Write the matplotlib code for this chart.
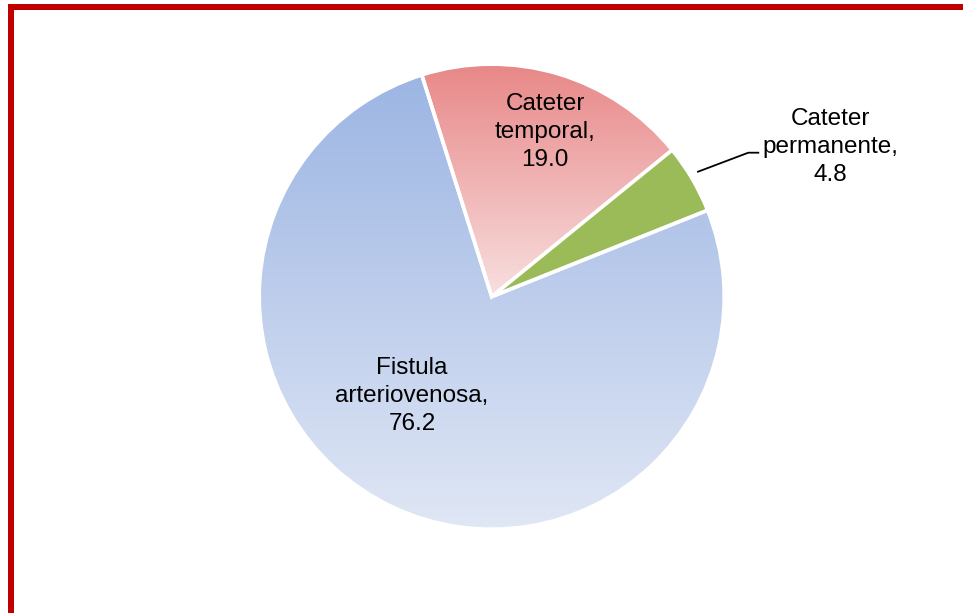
import matplotlib
matplotlib.use("Agg")
import matplotlib.pyplot as plt
import numpy as np
from matplotlib.patches import Rectangle
from matplotlib.colors import LinearSegmentedColormap

# Data
categories = ["Cateter temporal", "Cateter permanente", "Fistula arteriovenosa"]
label_lines = ["Cateter\ntemporal,", "Cateter\npermanente,", "Fistula\narteriovenosa,"]
values = [19.0, 4.8, 76.2]

W, H = 963, 613
fig = plt.figure(figsize=(W / 100, H / 100), dpi=100)
ax = fig.add_axes([0, 0, 1, 1])
plt.rcParams['font.family'] = ['Liberation Sans', 'DejaVu Sans']

cx, cy, R = 491.7, H - 296.7, 232.5
wedges, _ = ax.pie(values, startangle=107.5, counterclock=False,
                   center=(cx, cy), radius=R, explode=[0.065, 0.065, 0.0],
                   wedgeprops=dict(edgecolor='white', linewidth=2.6),
                   frame=True)
ax.set_xlim(0, W)
ax.set_ylim(0, H)
ax.set_aspect('auto')
ax.axis('off')

grads = [("#E88686", "#F8DFDF"), None, ("#9CB5E3", "#E0E7F5")]
solid = [None, "#9BBB59", None]
for w, g, s in zip(wedges, grads, solid):
    if g is None:
        w.set_facecolor(s)
        continue
    verts = w.get_path().vertices
    x0, x1 = verts[:, 0].min(), verts[:, 0].max()
    y0, y1 = verts[:, 1].min(), verts[:, 1].max()
    cmap = LinearSegmentedColormap.from_list("g", [g[1], g[0]])
    grad = np.linspace(0, 1, 256).reshape(-1, 1)
    im = ax.imshow(grad, cmap=cmap, origin='lower', aspect='auto',
                   extent=(x0, x1, y0, y1), zorder=w.get_zorder() - 0.1)
    im.set_clip_path(w)
    w.set_facecolor('none')
ax.set_xlim(0, W)
ax.set_ylim(0, H)

fs = 17.5
ls = 1.38
# Labels
ax.text(545, H - 132, f"{label_lines[0]}\n{values[0]:.1f}", ha='center', va='center',
        fontsize=fs, linespacing=ls, zorder=5)
ax.text(830, H - 147, f"{label_lines[1]}\n{values[1]:.1f}", ha='center', va='center',
        fontsize=fs, linespacing=ls, zorder=5)
ax.text(412, H - 396, f"{label_lines[2]}\n{values[2]:.1f}", ha='center', va='center',
        fontsize=fs, linespacing=ls, zorder=5)

# Leader line for small slice
ax.plot([698, 748.3, 758.3], [H - 171.7, H - 152.7, H - 152.7], color='black', lw=1.3, zorder=5)

# Red frame
fig.patches.append(Rectangle((11 / W, -0.1), 1.2, (H - 7) / H + 0.1, transform=fig.transFigure,
                             fill=False, edgecolor='#C00000', linewidth=6 * 0.72,
                             clip_on=False))

fig.savefig("out.png", dpi=100)
